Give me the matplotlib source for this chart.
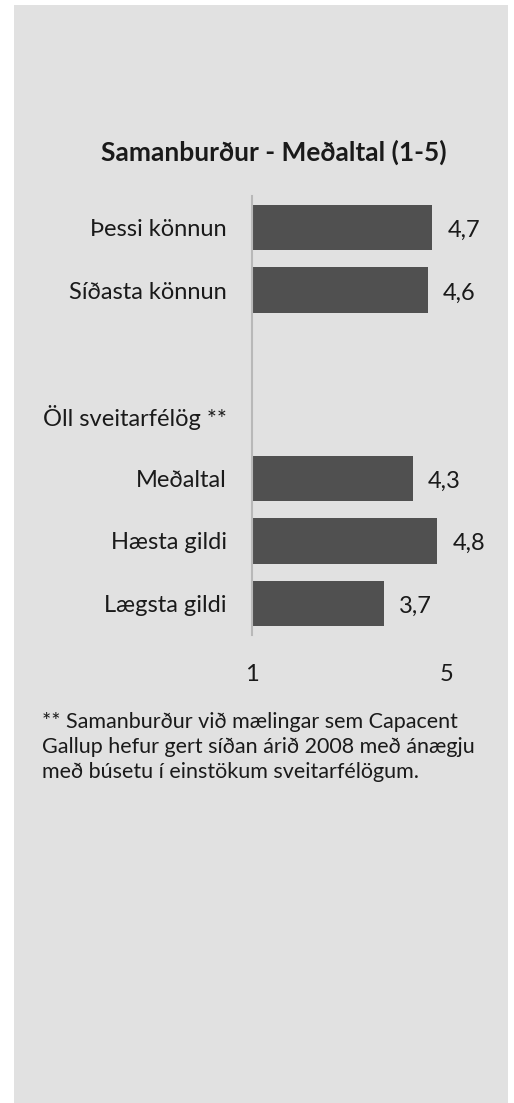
import matplotlib
matplotlib.use("Agg")
import matplotlib.pyplot as plt
from matplotlib.patches import Rectangle

categories = ["Þessi könnun", "Síðasta könnun", "", "Öll sveitarfélög **",
              "Meðaltal", "Hæsta gildi", "Lægsta gildi"]
values = [4.7, 4.6, None, None, 4.3, 4.8, 3.7]
value_labels = ["4,7", "4,6", "", "", "4,3", "4,8", "3,7"]
x_ticks = [1, 5]
x_tick_labels = ["1", "5"]
title = "Samanburður - Meðaltal (1-5)"
footnote = ("** Samanburður við mælingar sem Capacent\n"
            "Gallup hefur gert síðan árið 2008 með ánægju\n"
            "með búsetu í einstökum sveitarfélögum.")

plt.rcParams['font.family'] = ['Lato', 'DejaVu Sans']

W, H = 514, 1103
fig = plt.figure(figsize=(W / 100, H / 100), dpi=100)
fig.patch.set_facecolor("white")
fig.patches.append(Rectangle((14 / W, 0), (508 - 14) / W, (H - 5) / H,
                             transform=fig.transFigure, facecolor="#e1e1e1",
                             edgecolor="none", zorder=-5))

ax = fig.add_axes([252 / W, 1 - 635 / H, (447 - 252) / W, (635 - 196) / H])
ax.set_zorder(2)
ax.set_facecolor("none")
ax.set_xlim(1, 5)
ax.set_ylim(len(categories) - 0.5, -0.5)

bar_color = "#505050"
for i, v in enumerate(values):
    if v is None:
        continue
    ax.barh(i, v - 1, left=1, height=0.72, color=bar_color, zorder=2)
    ax.annotate(value_labels[i], (v, i), xytext=(11, -2), textcoords="offset points",
                va="center", ha="left", fontsize=17, color="#1a1a1a")

ax.set_yticks(range(len(categories)))
ax.set_yticklabels(categories, fontsize=17, color="#1a1a1a")
ax.tick_params(axis="y", length=0, pad=18)
ax.set_xticks(x_ticks)
ax.set_xticklabels(x_tick_labels, fontsize=17, color="#1a1a1a")
ax.tick_params(axis="x", length=0, pad=21)

for s in ["top", "right", "bottom"]:
    ax.spines[s].set_visible(False)
ax.spines["left"].set_color("#b8b8b8")
ax.spines["left"].set_linewidth(1.5)

fig.text(274 / W, 1 - 152 / H, title, ha="center", va="center",
         fontsize=19, fontweight="bold", color="#1a1a1a")
fig.text(42 / W, 1 - 712 / H, footnote, ha="left", va="top",
         fontsize=15.5, color="#1a1a1a", linespacing=1.3)

fig.savefig("out.png", dpi=100, facecolor=fig.get_facecolor())
